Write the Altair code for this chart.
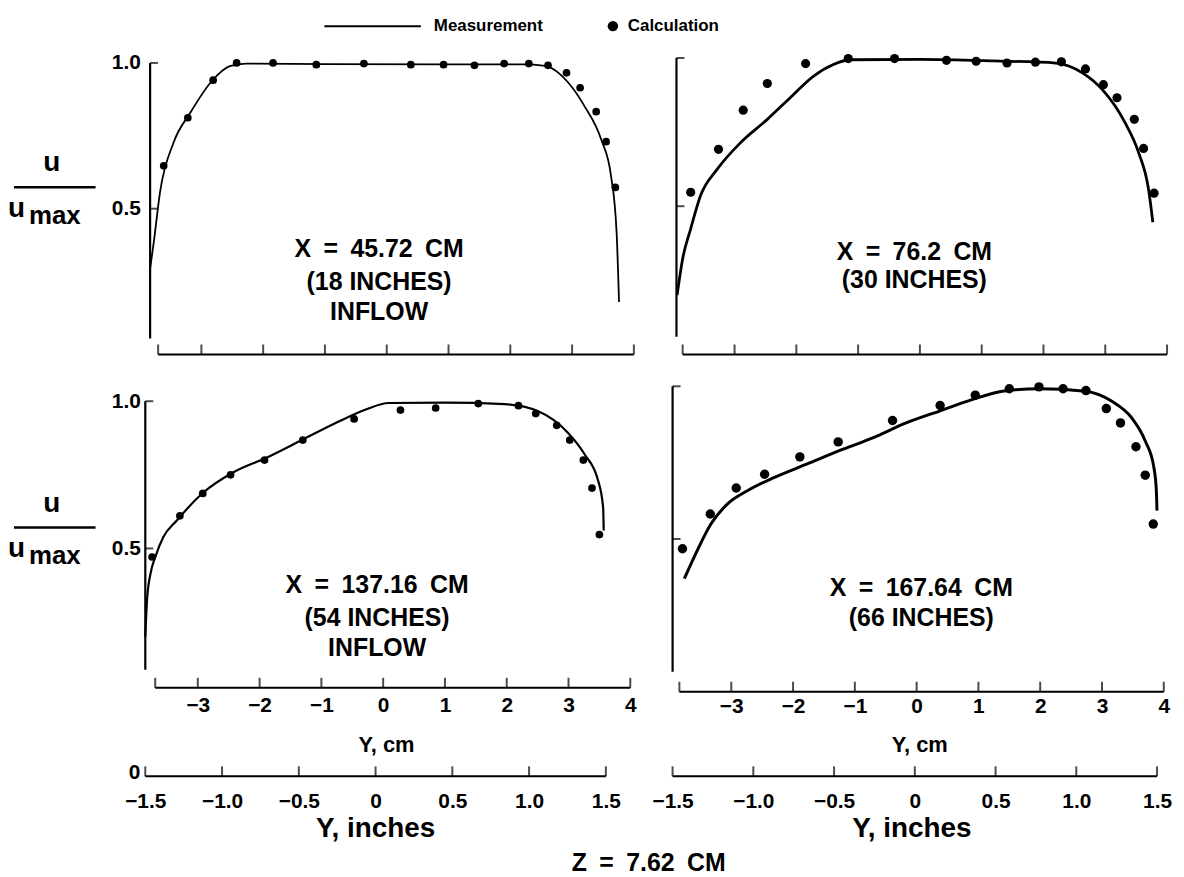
import altair as alt
import pandas as pd

FONT = "Liberation Sans"

# ---------------- data: Y (cm) and u/umax ----------------
# X = 45.72 cm (18 in)
meas_45_y = [-3.83, -3.77, -3.67, -3.45, -3.18, -2.83, -2.54, -2.28, -1.0, 1.0, 2.2, 2.56, 2.94, 3.20, 3.47, 3.63, 3.72, 3.76]
meas_45_u = [0.294, 0.386, 0.556, 0.727, 0.829, 0.938, 0.989, 0.998, 0.996, 0.995, 0.995, 0.990, 0.932, 0.852, 0.738, 0.613, 0.42, 0.18]
calc_45_y = [-3.61, -3.22, -2.81, -2.43, -1.84, -1.14, -0.37, 0.39, 0.92, 1.42, 1.90, 2.30, 2.61, 2.91, 3.13, 3.39, 3.55, 3.70]
calc_45_u = [0.647, 0.812, 0.941, 1.0, 1.0, 0.994, 0.998, 0.994, 0.994, 0.992, 0.998, 0.998, 0.992, 0.966, 0.915, 0.833, 0.730, 0.573]

# X = 76.2 cm (30 in)
meas_76_y = [-3.93, -3.84, -3.71, -3.55, -3.28, -2.90, -2.47, -2.10, -1.72, -1.40, -1.13, 0.0, 1.2, 2.20, 2.63, 2.95, 3.32, 3.54, 3.70, 3.77]
meas_76_u = [0.20, 0.323, 0.424, 0.536, 0.625, 0.715, 0.793, 0.866, 0.939, 0.978, 0.994, 0.995, 0.990, 0.983, 0.950, 0.894, 0.782, 0.681, 0.558, 0.446]
calc_76_y = [-3.71, -3.26, -2.86, -2.47, -1.85, -1.16, -0.41, 0.43, 0.91, 1.41, 1.87, 2.29, 2.68, 2.97, 3.19, 3.47, 3.62, 3.79]
calc_76_u = [0.547, 0.692, 0.824, 0.914, 0.981, 0.998, 0.998, 0.992, 0.989, 0.983, 0.986, 0.987, 0.963, 0.910, 0.866, 0.793, 0.695, 0.544]

# X = 137.16 cm (54 in)
meas_137_y = [-3.85, -3.82, -3.76, -3.69, -3.56, -3.34, -2.91, -2.43, -1.89, -1.30, -0.71, -0.28, 0.09, 1.0, 1.97, 2.51, 2.99, 3.26, 3.48, 3.56, 3.57]
meas_137_u = [0.20, 0.33, 0.42, 0.47, 0.538, 0.595, 0.69, 0.758, 0.808, 0.87, 0.932, 0.972, 0.994, 0.995, 0.99, 0.966, 0.893, 0.82, 0.73, 0.64, 0.561]
calc_137_y = [-3.74, -3.29, -2.92, -2.47, -1.92, -1.30, -0.47, 0.28, 0.85, 1.54, 2.19, 2.47, 2.81, 3.02, 3.24, 3.38, 3.50]
calc_137_u = [0.471, 0.611, 0.687, 0.75, 0.80, 0.868, 0.940, 0.970, 0.977, 0.992, 0.985, 0.958, 0.918, 0.868, 0.80, 0.705, 0.547]

# X = 167.64 cm (66 in)
meas_167_y = [-3.76, -3.55, -3.33, -3.06, -2.74, -2.31, -1.78, -1.19, -0.70, -0.17, 0.37, 0.91, 1.39, 1.98, 2.73, 3.16, 3.48, 3.70, 3.84, 3.88, 3.89]
meas_167_u = [0.370, 0.463, 0.549, 0.615, 0.658, 0.701, 0.745, 0.794, 0.832, 0.88, 0.919, 0.957, 0.984, 0.992, 0.984, 0.951, 0.897, 0.821, 0.734, 0.658, 0.593]
calc_167_y = [-3.79, -3.34, -2.92, -2.46, -1.89, -1.27, -0.39, 0.38, 0.95, 1.50, 1.98, 2.37, 2.74, 3.07, 3.30, 3.55, 3.70, 3.83]
calc_167_u = [0.468, 0.582, 0.667, 0.712, 0.769, 0.818, 0.888, 0.937, 0.971, 0.992, 0.998, 0.992, 0.986, 0.927, 0.88, 0.802, 0.709, 0.549]

# axis ticks / labels
cm_tick_values = [-3, -2, -1, 0, 1, 2, 3]
cm_label_values = [-3, -2, -1, 0, 1, 2, 3, 4]
cm_axis_end = 4.0
inch_tick_values = [-1.5, -1.0, -0.5, 0, 0.5, 1.0, 1.5]
u_tick_values = [0.5, 1.0]

# ---------------- layout / style ----------------
geo = {
    "TL": dict(w=495, h=301, xdom=[-3.908, 4.063], ydom=[0.0, 1.0273], wall=-3.83, ybot=0.055, start=-3.70, lw=1.8, dot=60),
    "TR": dict(w=497, h=301, xdom=[-4.003, 4.0], ydom=[0.0, 1.0101], wall=-3.94, ybot=0.06, start=-3.84, lw=2.8, dot=85),
    "BL": dict(w=495, h=308, xdom=[-3.85, 4.121], ydom=[0.027, 1.0676], wall=-3.85, ybot=0.088, start=-3.69, lw=2.2, dot=60,
               idom=[-1.5, 1.708], lp=7, tx=242, ty=57, ioff=89, itx=231, ity=53),
    "BR": dict(w=497, h=312, xdom=[-3.95, 4.053], ydom=[0.0, 1.0163], wall=-3.95, ybot=0.065, start=-3.84, lw=3.0, dot=90,
               idom=[-1.5, 1.562], lp=4, tx=248, ty=53, ioff=85, itx=240, ity=53),
}

DUMMY = pd.DataFrame({"a": [0]})
BOLD = dict(font=FONT, fontWeight="bold", color="black")
ANN = 25  # annotation font size
TICK = 21  # tick label font size


def txt(s, x, y, size=ANN, align="center", baseline="middle"):
    return alt.Chart(DUMMY).mark_text(text=s, fontSize=size, align=align, baseline=baseline, **BOLD).encode(
        x=alt.value(x), y=alt.value(y))


def hrule(x1, x2, y, w=2.5):
    return alt.Chart(DUMMY).mark_rule(color="black", strokeWidth=w).encode(
        x=alt.value(x1), x2=alt.value(x2), y=alt.value(y))


def panel(key, my, mu, cy, cu, left, bottom, extras):
    g = geo[key]
    xs = alt.Scale(domain=g["xdom"], nice=False, zero=False)
    ys = alt.Scale(domain=g["ydom"], nice=False, zero=False)
    if bottom:
        xaxis = alt.Axis(values=cm_label_values, format="d", title="Y,  cm", domain=False, ticks=False, grid=False,
                         tickSize=0, labelPadding=g["lp"], labelFont=FONT, labelFontSize=TICK, labelFontWeight="bold",
                         labelColor="black", titleFont=FONT, titleFontSize=22, titleFontWeight="bold",
                         titleColor="black", titleX=g["tx"], titleY=g["ty"], titleBaseline="middle",
                         labelFlush=False, labelOverlap=False)
    else:
        xaxis = None
    if left:
        yaxis = alt.Axis(values=u_tick_values, format=".1f", title=None, domain=False, ticks=False, grid=False,
                         tickSize=0, labelPadding=5, labelFont=FONT, labelFontSize=TICK, labelFontWeight="bold",
                         labelColor="black", labelFlush=False)
    else:
        yaxis = None

    def X(f):
        return alt.X(f, type="quantitative", scale=xs, axis=xaxis)

    def Y(f):
        return alt.Y(f, type="quantitative", scale=ys, axis=yaxis)

    meas = alt.Chart(pd.DataFrame({"y": my, "u": mu})).mark_line(
        color="black", strokeWidth=g["lw"], interpolate="monotone").encode(x=X("y"), y=Y("u"))
    calc = alt.Chart(pd.DataFrame({"y": cy, "u": cu})).mark_circle(
        color="black", opacity=1, size=g["dot"]).encode(x=X("y"), y=Y("u"))
    wall = alt.Chart(pd.DataFrame({"x": [g["wall"]], "y": [g["ybot"]], "y2": [u_tick_values[-1]]})).mark_rule(
        color="black", strokeWidth=2.2).encode(x=X("x"), y=Y("y"), y2="y2")
    wall_ticks = alt.Chart(pd.DataFrame({"x": [g["wall"]] * len(u_tick_values), "v": u_tick_values})).mark_tick(
        orient="horizontal", color="black", size=8, thickness=2, xOffset=4).encode(x=X("x"), y=Y("v"))
    cm_line = alt.Chart(pd.DataFrame({"x": [g["start"]], "x2": [cm_axis_end]})).mark_rule(
        color="black", strokeWidth=2).encode(x=X("x"), x2="x2", y=alt.value(g["h"]))
    cm_ticks = alt.Chart(pd.DataFrame({"v": [g["start"]] + cm_tick_values + [cm_axis_end]})).mark_tick(
        orient="vertical", color="black", size=10, thickness=2, yOffset=-5).encode(x=X("v"), y=alt.value(g["h"]))

    cm_group = alt.layer(meas, calc, wall, wall_ticks, cm_line, cm_ticks)
    layers = [cm_group]
    if bottom:
        ixs = alt.Scale(domain=g["idom"], nice=False, zero=False)
        iaxis = alt.Axis(values=inch_tick_values, orient="bottom", offset=g["ioff"], title="Y,  inches",
                         domain=False, ticks=False, grid=False, tickSize=0, labelPadding=14,
                         labelExpr="datum.value == 0 ? '0' : format(datum.value, '.1f')",
                         labelFont=FONT, labelFontSize=TICK, labelFontWeight="bold", labelColor="black",
                         titleFont=FONT, titleFontSize=28, titleFontWeight="bold", titleColor="black",
                         titleX=g["itx"], titleY=g["ity"], titleBaseline="middle", labelFlush=False,
                         labelOverlap=False)
        iy = g["h"] + g["ioff"]
        inch_line = alt.Chart(pd.DataFrame({"x": [inch_tick_values[0]], "x2": [inch_tick_values[-1]]})).mark_rule(
            color="black", strokeWidth=2).encode(x=alt.X("x:Q", scale=ixs, axis=iaxis), x2="x2", y=alt.value(iy))
        inch_ticks = alt.Chart(pd.DataFrame({"v": inch_tick_values})).mark_tick(
            orient="vertical", color="black", size=10, thickness=2, yOffset=-5).encode(
            x=alt.X("v:Q", scale=ixs, axis=iaxis), y=alt.value(iy))
        layers.append(alt.layer(inch_line, inch_ticks))
    layers += extras
    ch = alt.layer(*layers).properties(width=g["w"], height=g["h"])
    if bottom:
        ch = ch.resolve_scale(x="independent").resolve_axis(x="independent")
    return ch


SP = "\u2002"
tl_extras = [
    txt(f"X{SP}={SP}45.72{SP}CM", 235, 195),
    txt("(18 INCHES)", 235, 228),
    txt("INFLOW", 235, 258),
    # legend
    hrule(180, 277, -29, 2),
    txt("Measurement", 290, -29, size=17, align="left"),
    alt.Chart(DUMMY).mark_circle(color="black", opacity=1, size=110).encode(x=alt.value(470), y=alt.value(-29)),
    txt("Calculation", 485, -29, size=17, align="left"),
    # u / umax
    txt("u", -94, 117, size=28, baseline="alphabetic"),
    hrule(-132, -50, 133, 2.5),
    txt("u", -138, 163, size=28, align="left", baseline="alphabetic"),
    txt("max", -117, 170, size=26, align="left", baseline="alphabetic"),
]
tr_extras = [
    txt(f"X{SP}={SP}76.2{SP}CM", 243, 198),
    txt("(30 INCHES)", 243, 226),
]
bl_extras = [
    txt(f"X{SP}={SP}137.16{SP}CM", 233, 205),
    txt("(54 INCHES)", 233, 238),
    txt("INFLOW", 233, 268),
    txt("u", -94, 131, size=28, baseline="alphabetic"),
    hrule(-132, -50, 147, 2.5),
    txt("u", -138, 177, size=28, align="left", baseline="alphabetic"),
    txt("max", -117, 184, size=26, align="left", baseline="alphabetic"),
    txt("0", -5, 394, size=TICK, align="right"),
    txt(f"Z{SP}={SP}7.62{SP}CM", 506, 484),
]
br_extras = [
    txt(f"X{SP}={SP}167.64{SP}CM", 250, 208),
    txt("(66 INCHES)", 250, 238),
]

TL = panel("TL", meas_45_y, meas_45_u, calc_45_y, calc_45_u, True, False, tl_extras)
TR = panel("TR", meas_76_y, meas_76_u, calc_76_y, calc_76_u, False, False, tr_extras)
BL = panel("BL", meas_137_y, meas_137_u, calc_137_y, calc_137_u, True, True, bl_extras)
BR = panel("BR", meas_167_y, meas_167_u, calc_167_y, calc_167_u, False, True, br_extras)

chart = alt.concat(TL, TR, BL, BR, columns=2, spacing={"row": 27, "column": 35}, bounds="flush").properties(
    padding={"left": 0, "top": 7, "right": 4, "bottom": 0},
    background="white",
).configure(font=FONT).configure_view(stroke=None, strokeWidth=0)

chart.save("out.html", embed_options={"renderer": "svg", "actions": False})
